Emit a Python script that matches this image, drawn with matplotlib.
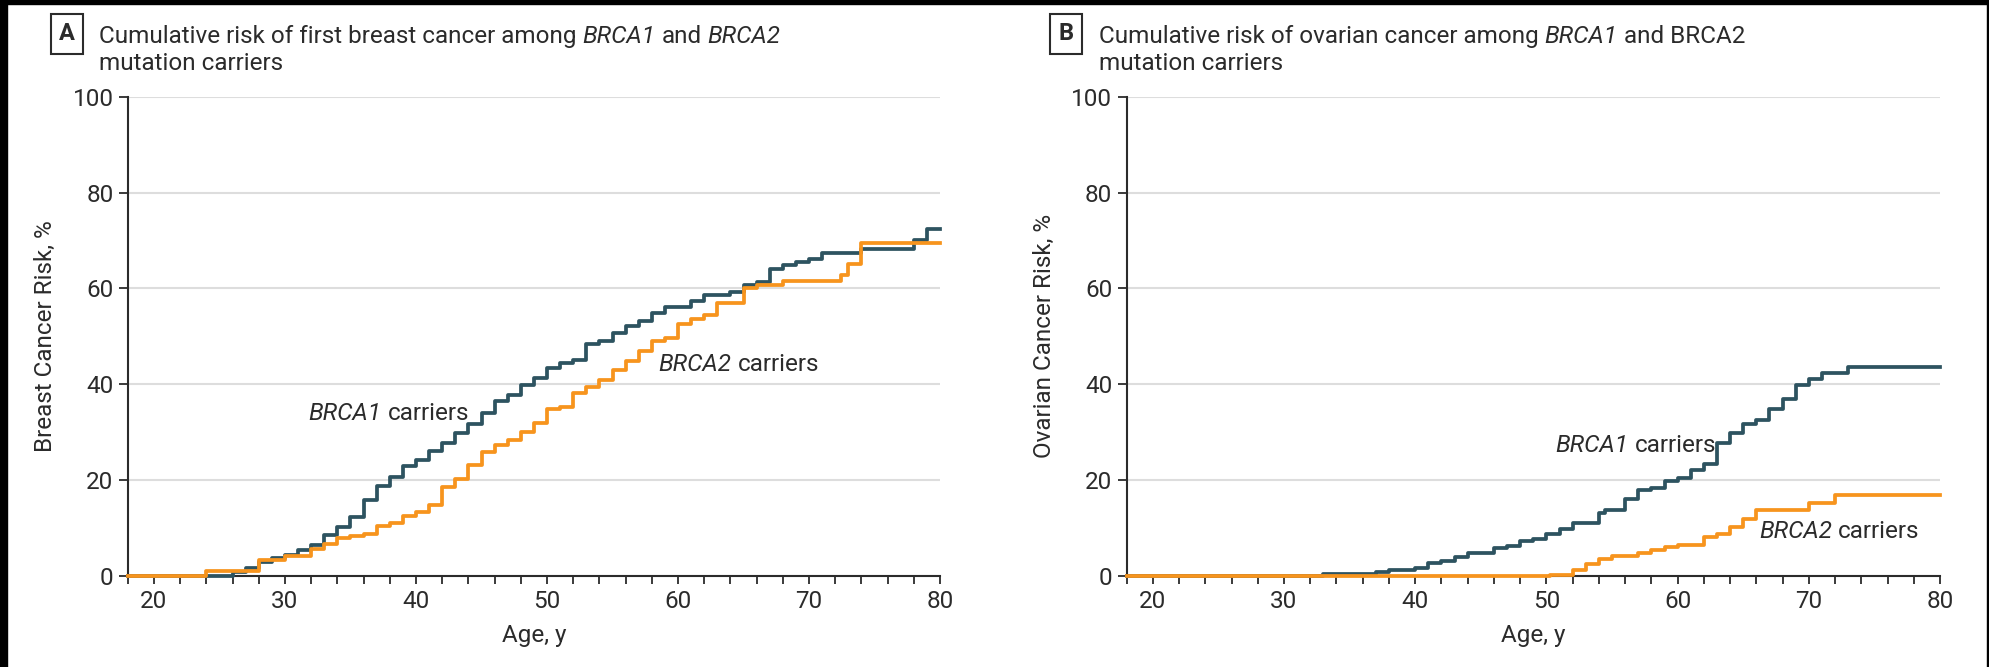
import numpy as np
import matplotlib
matplotlib.use("Agg")
import matplotlib.pyplot as plt
from matplotlib.ticker import MultipleLocator, FuncFormatter
from matplotlib.patches import Rectangle

# Panel A: breast cancer, step start ages and cumulative risk (%)
brca1_breast_age = [18, 26, 27, 28, 29, 30, 31, 32, 33, 34, 35, 36, 37, 38, 39, 40, 41, 42, 43, 44,
                    45, 46, 47, 48, 49, 50, 51, 52, 53, 54, 55, 56, 57, 58, 59, 61, 62, 64, 65, 66,
                    67, 68, 69, 70, 71, 74, 78, 79, 80]
brca1_breast_risk = [0, 0.7, 1.7, 2.9, 3.6, 4.3, 5.3, 6.4, 8.5, 10.1, 12.3, 15.7, 18.8, 20.6, 22.9, 24.1,
                     26.1, 27.7, 29.8, 31.7, 34.0, 36.4, 37.7, 39.8, 41.3, 43.4, 44.4, 45.1, 48.3, 49.0,
                     50.7, 52.1, 53.2, 54.9, 56.0, 57.4, 58.5, 59.3, 60.6, 61.3, 64.1, 64.8, 65.5, 66.2,
                     67.4, 68.2, 70.0, 72.3, 72.3]
brca2_breast_age = [18, 24, 28, 30, 32, 33, 34, 35, 36, 37, 38, 39, 40, 41, 42, 43, 44, 45, 46, 47,
                    48, 49, 50, 51, 52, 53, 54, 55, 56, 57, 58, 59, 60, 61, 62, 63, 65, 66, 68, 72.4,
                    73, 74, 80]
brca2_breast_risk = [0, 1.0, 3.2, 4.1, 5.5, 6.6, 7.9, 8.3, 8.8, 10.3, 10.9, 12.4, 13.4, 14.8, 18.5,
                     20.2, 23.1, 25.9, 27.2, 28.3, 30.0, 31.8, 34.7, 35.3, 38.2, 39.4, 40.9, 42.9, 44.8,
                     46.9, 49.0, 49.6, 52.5, 53.5, 54.4, 56.9, 60.0, 60.7, 61.6, 62.7, 65.1, 69.5, 69.5]

# Panel B: ovarian cancer
brca1_ovarian_age = [18, 33, 37, 38, 40, 41, 42, 43, 44, 46, 47, 48, 49, 50, 51, 52, 54, 54.5, 56, 57,
                     58, 59, 60, 61, 62, 63, 64, 65, 66, 67, 68, 69, 70, 71, 73, 80]
brca1_ovarian_risk = [0, 0.4, 0.7, 1.2, 1.6, 2.6, 3.0, 4.0, 4.7, 5.7, 6.1, 7.3, 7.7, 8.6, 9.8, 11.1,
                      13.1, 13.8, 16.0, 17.8, 18.3, 19.7, 20.4, 22.0, 23.3, 27.7, 29.7, 31.6, 32.6,
                      34.7, 36.8, 39.9, 41.1, 42.4, 43.6, 43.6]
brca2_ovarian_age = [18, 50.3, 52, 53, 54, 55, 57, 58, 59, 60, 62, 63, 64, 65, 66, 70, 72, 80]
brca2_ovarian_risk = [0, 0.2, 1.1, 2.4, 3.5, 4.2, 4.7, 5.3, 6.0, 6.5, 8.1, 8.8, 10.2, 11.9, 13.7,
                      15.1, 16.8, 16.8]

teal = "#2d5360"
orange = "#f7941d"
ink = "#2b2b2b"
W, H = 1990, 667

plt.rcParams["font.family"] = ["Roboto", "DejaVu Sans"]

fig = plt.figure(figsize=(W / 100, H / 100), dpi=100)
renderer = fig.canvas.get_renderer()

# thin black frame strips seen in the reference
fig.patches.append(Rectangle((0, 0), 7 / W, 1, transform=fig.transFigure, color="black", zorder=0))
fig.patches.append(Rectangle((0, 1 - 4 / H), 1, 4 / H, transform=fig.transFigure, color="black", zorder=0))
fig.patches.append(Rectangle((1 - 3 / W, 0), 3 / W, 1, transform=fig.transFigure, color="black", zorder=0))

ax_a = fig.add_axes([0.0642, 0.1369, 0.4082, 0.7181])
ax_b = fig.add_axes([0.5661, 0.1369, 0.4088, 0.7181])


def style_axis(ax, ylabel):
    ax.set_xlim(18, 80)
    ax.set_ylim(0, 100)
    for s in ["top", "right"]:
        ax.spines[s].set_visible(False)
    for s in ["left", "bottom"]:
        ax.spines[s].set_color(ink)
        ax.spines[s].set_linewidth(1.5)
    ax.xaxis.set_major_locator(MultipleLocator(2))
    ax.xaxis.set_major_formatter(FuncFormatter(lambda v, p: f"{int(round(v))}" if int(round(v)) % 10 == 0 else ""))
    ax.yaxis.set_major_locator(MultipleLocator(20))
    ax.tick_params(axis="x", direction="out", length=5.5, width=1.3, color=ink, labelsize=17.5,
                   labelcolor=ink, pad=5)
    ax.tick_params(axis="y", direction="out", length=6.7, width=1.3, color=ink, labelsize=17.5,
                   labelcolor=ink, pad=3.5)
    ax.grid(axis="y", color="#dddddd", linewidth=1.5)
    ax.set_axisbelow(True)
    ax.set_xlabel("Age, y", fontsize=17.5, color=ink)
    ax.set_ylabel(ylabel, fontsize=17.5, color=ink)
    ax.xaxis.set_label_coords(0.5, -0.10)
    ax.yaxis.set_label_coords(-0.087, 0.5)


style_axis(ax_a, "Breast Cancer Risk, %")
style_axis(ax_b, "Ovarian Cancer Risk, %")

ax_a.step(brca1_breast_age, brca1_breast_risk, where="post", color=teal, lw=2.7, clip_on=False, zorder=3)
ax_a.step(brca2_breast_age, brca2_breast_risk, where="post", color=orange, lw=2.7, clip_on=False, zorder=4)
ax_b.step(brca1_ovarian_age, brca1_ovarian_risk, where="post", color=teal, lw=2.7, clip_on=False, zorder=3)
ax_b.step(brca2_ovarian_age, brca2_ovarian_risk, where="post", color=orange, lw=2.7, clip_on=False, zorder=4)


def space_width(size):
    t1 = fig.text(0, 0, "x x", fontsize=size)
    t2 = fig.text(0, 0, "xx", fontsize=size)
    w = t1.get_window_extent(renderer).width - t2.get_window_extent(renderer).width
    t1.remove()
    t2.remove()
    return w


def rich_line(px, py, pieces, size=17.5):
    # pieces drawn one after another on a shared baseline; px, py in figure pixels
    gap = space_width(size)
    cur = px
    for s, style in pieces:
        t = fig.text(cur / W, py / H, s, fontsize=size, fontstyle=style, color=ink,
                     ha="left", va="baseline")
        cur = t.get_window_extent(renderer).x1 + gap


def label_on(ax, x, y, name, size=17.5):
    px, py = ax.transData.transform((x, y))
    rich_line(px, py - 6, [(name, "italic"), ("carriers", "normal")], size)


# series labels
label_on(ax_a, 31.8, 33.7, "BRCA1")
label_on(ax_a, 58.5, 44.0, "BRCA2")
label_on(ax_b, 50.7, 27.0, "BRCA1")
label_on(ax_b, 66.2, 9.2, "BRCA2")


# panel titles
def panel_title(x_box, x_text, letter, line1, line2):
    fig.text(x_box / W, 1 - 34 / H, letter, fontsize=17, fontweight="bold", color=ink,
             ha="center", va="center",
             bbox=dict(boxstyle="square,pad=0.35", facecolor="white", edgecolor=ink, linewidth=1.5))
    rich_line(x_text, H - 43, line1)
    rich_line(x_text, H - 70, line2)


panel_title(67, 99, "A",
            [("Cumulative risk of first breast cancer among", "normal"), ("BRCA1", "italic"),
             ("and", "normal"), ("BRCA2", "italic")],
            [("mutation carriers", "normal")])
panel_title(1066, 1099, "B",
            [("Cumulative risk of ovarian cancer among", "normal"), ("BRCA1", "italic"),
             ("and BRCA2", "normal")],
            [("mutation carriers", "normal")])

fig.savefig("out.png", dpi=100)
